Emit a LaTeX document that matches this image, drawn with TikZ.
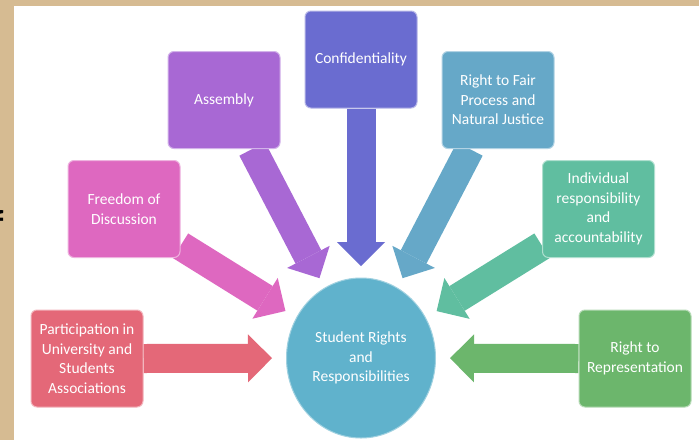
\documentclass[tikz,border=0pt]{standalone}
\usepackage{fontspec}
\setsansfont{Carlito}
\usepackage{xcolor}
\usepackage{tikz}
\usetikzlibrary{shapes.geometric, arrows.meta, calc, backgrounds}
\definecolor{parchment}{RGB}{214, 187, 146}
\definecolor{confcol}{RGB}{106, 108, 208}
\definecolor{asmcol}{RGB}{168, 104, 212}
\definecolor{faircol}{RGB}{102, 168, 200}
\definecolor{freecol}{RGB}{222, 104, 192}
\definecolor{indivcol}{RGB}{96, 190, 160}
\definecolor{partcol}{RGB}{228, 104, 120}
\definecolor{reprcol}{RGB}{108, 182, 108}
\definecolor{hubcol}{RGB}{96, 178, 204}
\tikzstyle{topic} = [rectangle, rounded corners=6pt, minimum width=112pt, minimum height=97pt, align=center, text=white, line width=1pt, font=\sffamily\fontsize{15.5}{19.5}\selectfont]
\tikzstyle{hub} = [ellipse, minimum width=149pt, minimum height=160pt, align=center, text=white, line width=1pt, draw=hubcol!60!white, fill=hubcol, font=\sffamily\fontsize{15.5}{19.5}\selectfont]
\tikzstyle{bigarrow} = [line width=29pt, -{Triangle[length=24pt, width=48pt, line width=0pt]}]

\begin{document}
\begin{tikzpicture}[x=1pt, y=-1pt]
    \useasboundingbox (0,0) rectangle (699,440);
    \node[topic, draw=confcol!50!white, fill=confcol] (conf) at (361, 59.5) {Confidentiality};
    \node[topic, draw=asmcol!50!white, fill=asmcol] (asm) at (224, 100) {Assembly};
    \node[topic, draw=faircol!50!white, fill=faircol] (fair) at (498, 100) {Right to Fair\\Process and\\Natural Justice};
    \node[topic, draw=freecol!50!white, fill=freecol] (free) at (124, 209) {Freedom of\\Discussion};
    \node[topic, draw=indivcol!50!white, fill=indivcol] (indiv) at (598.5, 209) {Individual\\responsibility\\and\\accountability};
    \node[topic, draw=partcol!50!white, fill=partcol] (part) at (87, 358.5) {Participation in\\University and\\Students\\Associations};
    \node[topic, draw=reprcol!50!white, fill=reprcol] (repr) at (635, 358.5) {Right to\\Representation};
    \node[hub] (srr) at (361, 358) {Student Rights\\and\\Responsibilities};
    \node[anchor=base west, inner sep=0pt, font=\sffamily\bfseries\fontsize{36}{40}\selectfont] (cut) at (-8, 235) {f};

    \begin{scope}[on background layer]
        \fill[parchment] (0,0) rectangle (699,440);
        \fill[white] (14,6) rectangle (699,440);
        \coordinate (asmfoot) at ($(asm.south)!0.5!(asm.south east)$);
        \coordinate (fairfoot) at ($(fair.south)!0.5!(fair.south west)$);
        \coordinate (freefoot) at ($(free.east)!0.75!(free.south east)$);
        \coordinate (indivfoot) at ($(indiv.west)!0.75!(indiv.south west)$);
        \draw[bigarrow, confcol] (conf.south) -- ($(srr.center)!92pt!(conf.south)$);
        \draw[bigarrow, asmcol] (asmfoot) -- ($(srr.center)!90pt!(asmfoot)$);
        \draw[bigarrow, faircol] (fairfoot) -- ($(srr.center)!90pt!(fairfoot)$);
        \draw[bigarrow, freecol] (freefoot) -- ($(srr.center)!89pt!(freefoot)$);
        \draw[bigarrow, indivcol] (indivfoot) -- ($(srr.center)!89pt!(indivfoot)$);
        \draw[bigarrow, partcol] (part.east) -- ($(srr.center)!89pt!(part.east)$);
        \draw[bigarrow, reprcol] (repr.west) -- ($(srr.center)!89pt!(repr.west)$);
    \end{scope}
\end{tikzpicture}
\end{document}
